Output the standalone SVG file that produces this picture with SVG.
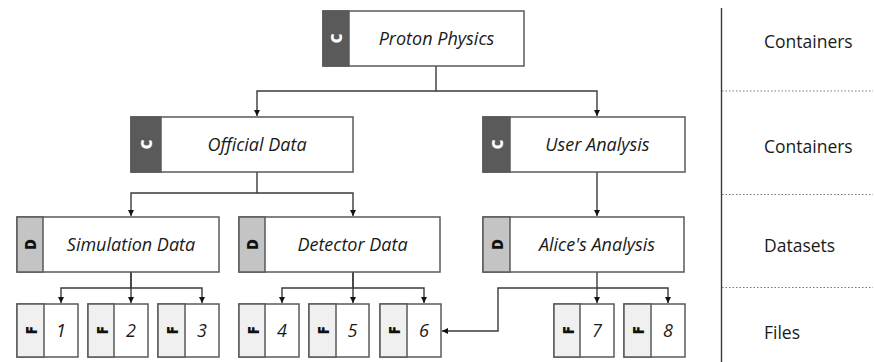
<svg xmlns="http://www.w3.org/2000/svg" width="874" height="362" viewBox="0 0 874 362">
<style>
.box{fill:#fff;stroke:#5a5a5a;stroke-width:1.5}
.tc{fill:#5a5a5a;stroke:#5a5a5a;stroke-width:1.5}
.td{fill:#c4c4c4;stroke:#5a5a5a;stroke-width:1.5}
.tf{fill:#f0f0f0;stroke:#5a5a5a;stroke-width:1.5}
.lbl{font-family:"Open Sans",sans-serif;font-style:italic;font-size:18px;fill:#1a1a1a;text-anchor:middle}
.tab{font-family:"Open Sans",sans-serif;font-weight:800;font-size:15px;text-anchor:middle;dominant-baseline:central}
.tabw{fill:#fff}
.tabk{fill:#111}
.side{font-family:"Open Sans",sans-serif;font-size:17.5px;fill:#1a1a1a}
.con{fill:none;stroke:#3a3a3a;stroke-width:1.4}
.dot{stroke:#777;stroke-width:1;stroke-dasharray:1.5 2}
</style>
<defs>
<marker id="ah" markerUnits="userSpaceOnUse" markerWidth="7" markerHeight="7" refX="6" refY="3" orient="auto">
<path d="M0,0 L6,3 L0,6 z" fill="#111"/>
</marker>
</defs>

<g id="connectors">
<path class="con" d="M436,66 V91 H257 V116" marker-end="url(#ah)"/>
<path class="con" d="M436,91 H597 V116" marker-end="url(#ah)"/>
<path class="con" d="M257,172 V193 H131 V216" marker-end="url(#ah)"/>
<path class="con" d="M257,193 H353 V216" marker-end="url(#ah)"/>
<path class="con" d="M597,172 V216" marker-end="url(#ah)"/>
<path class="con" d="M131,272 V288 H61 V303" marker-end="url(#ah)"/>
<path class="con" d="M131,272 V303" marker-end="url(#ah)"/>
<path class="con" d="M131,288 H202 V303" marker-end="url(#ah)"/>
<path class="con" d="M353,272 V288 H282 V303" marker-end="url(#ah)"/>
<path class="con" d="M353,272 V303" marker-end="url(#ah)"/>
<path class="con" d="M353,288 H424 V303" marker-end="url(#ah)"/>
<path class="con" d="M597,272 V303" marker-end="url(#ah)"/>
<path class="con" d="M597,288 H668 V303" marker-end="url(#ah)"/>
<path class="con" d="M597,288 H498 V331 H442" marker-end="url(#ah)"/>
</g>

<g id="proton">
<rect class="box" x="323" y="11" width="201" height="55"/>
<rect class="tc" x="323" y="11" width="26" height="55"/>
<text class="tab tabw" transform="translate(336,38.5) rotate(-90)">C</text>
<text class="lbl" x="436.5" y="45">Proton Physics</text>
</g>

<g id="official">
<rect class="box" x="131" y="117" width="222" height="55"/>
<rect class="tc" x="131" y="117" width="30" height="55"/>
<text class="tab tabw" transform="translate(146,144.5) rotate(-90)">C</text>
<text class="lbl" x="257" y="151">Official Data</text>
</g>

<g id="user">
<rect class="box" x="483" y="117" width="202" height="55"/>
<rect class="tc" x="483" y="117" width="27" height="55"/>
<text class="tab tabw" transform="translate(496.5,144.5) rotate(-90)">C</text>
<text class="lbl" x="597.5" y="151">User Analysis</text>
</g>

<g id="simulation">
<rect class="box" x="17" y="217" width="202" height="55"/>
<rect class="td" x="17" y="217" width="26" height="55"/>
<text class="tab tabk" transform="translate(30,244.5) rotate(-90)">D</text>
<text class="lbl" x="131" y="251">Simulation Data</text>
</g>

<g id="detector">
<rect class="box" x="239" y="217" width="201" height="55"/>
<rect class="td" x="239" y="217" width="26" height="55"/>
<text class="tab tabk" transform="translate(252,244.5) rotate(-90)">D</text>
<text class="lbl" x="352.5" y="251">Detector Data</text>
</g>

<g id="alice">
<rect class="box" x="483" y="217" width="201" height="55"/>
<rect class="td" x="483" y="217" width="27" height="55"/>
<text class="tab tabk" transform="translate(496.5,244.5) rotate(-90)">D</text>
<text class="lbl" x="597" y="251">Alice's Analysis</text>
</g>

<g id="file1">
<rect class="box" x="17" y="304" width="61" height="53"/>
<rect class="tf" x="17" y="304" width="27" height="53"/>
<text class="tab tabk" transform="translate(31,330.5) rotate(-90)">F</text>
<text class="lbl" x="61" y="337">1</text>
</g>
<g id="file2">
<rect class="box" x="88" y="304" width="60" height="53"/>
<rect class="tf" x="88" y="304" width="26" height="53"/>
<text class="tab tabk" transform="translate(101.5,330.5) rotate(-90)">F</text>
<text class="lbl" x="131" y="337">2</text>
</g>
<g id="file3">
<rect class="box" x="158" y="304" width="61" height="53"/>
<rect class="tf" x="158" y="304" width="27" height="53"/>
<text class="tab tabk" transform="translate(172,330.5) rotate(-90)">F</text>
<text class="lbl" x="202" y="337">3</text>
</g>
<g id="file4">
<rect class="box" x="239" y="304" width="60" height="53"/>
<rect class="tf" x="239" y="304" width="26" height="53"/>
<text class="tab tabk" transform="translate(252.5,330.5) rotate(-90)">F</text>
<text class="lbl" x="282" y="337">4</text>
</g>
<g id="file5">
<rect class="box" x="309" y="304" width="60" height="53"/>
<rect class="tf" x="309" y="304" width="27" height="53"/>
<text class="tab tabk" transform="translate(323,330.5) rotate(-90)">F</text>
<text class="lbl" x="352.5" y="337">5</text>
</g>
<g id="file6">
<rect class="box" x="380" y="304" width="61" height="53"/>
<rect class="tf" x="380" y="304" width="27" height="53"/>
<text class="tab tabk" transform="translate(394,330.5) rotate(-90)">F</text>
<text class="lbl" x="424" y="337">6</text>
</g>
<g id="file7">
<rect class="box" x="554" y="304" width="60" height="53"/>
<rect class="tf" x="554" y="304" width="26" height="53"/>
<text class="tab tabk" transform="translate(567.5,330.5) rotate(-90)">F</text>
<text class="lbl" x="597" y="337">7</text>
</g>
<g id="file8">
<rect class="box" x="624" y="304" width="61" height="53"/>
<rect class="tf" x="624" y="304" width="27" height="53"/>
<text class="tab tabk" transform="translate(638,330.5) rotate(-90)">F</text>
<text class="lbl" x="668" y="337">8</text>
</g>

<g id="legend">
<line x1="721.5" y1="8" x2="721.5" y2="362" stroke="#3a3a3a" stroke-width="1.4"/>
<line class="dot" x1="722" y1="91" x2="873" y2="91"/>
<line class="dot" x1="722" y1="194.5" x2="873" y2="194.5"/>
<line class="dot" x1="722" y1="287.5" x2="873" y2="287.5"/>
<text class="side" x="764" y="48">Containers</text>
<text class="side" x="764" y="153">Containers</text>
<text class="side" x="764" y="252">Datasets</text>
<text class="side" x="764" y="339">Files</text>
</g>
</svg>
